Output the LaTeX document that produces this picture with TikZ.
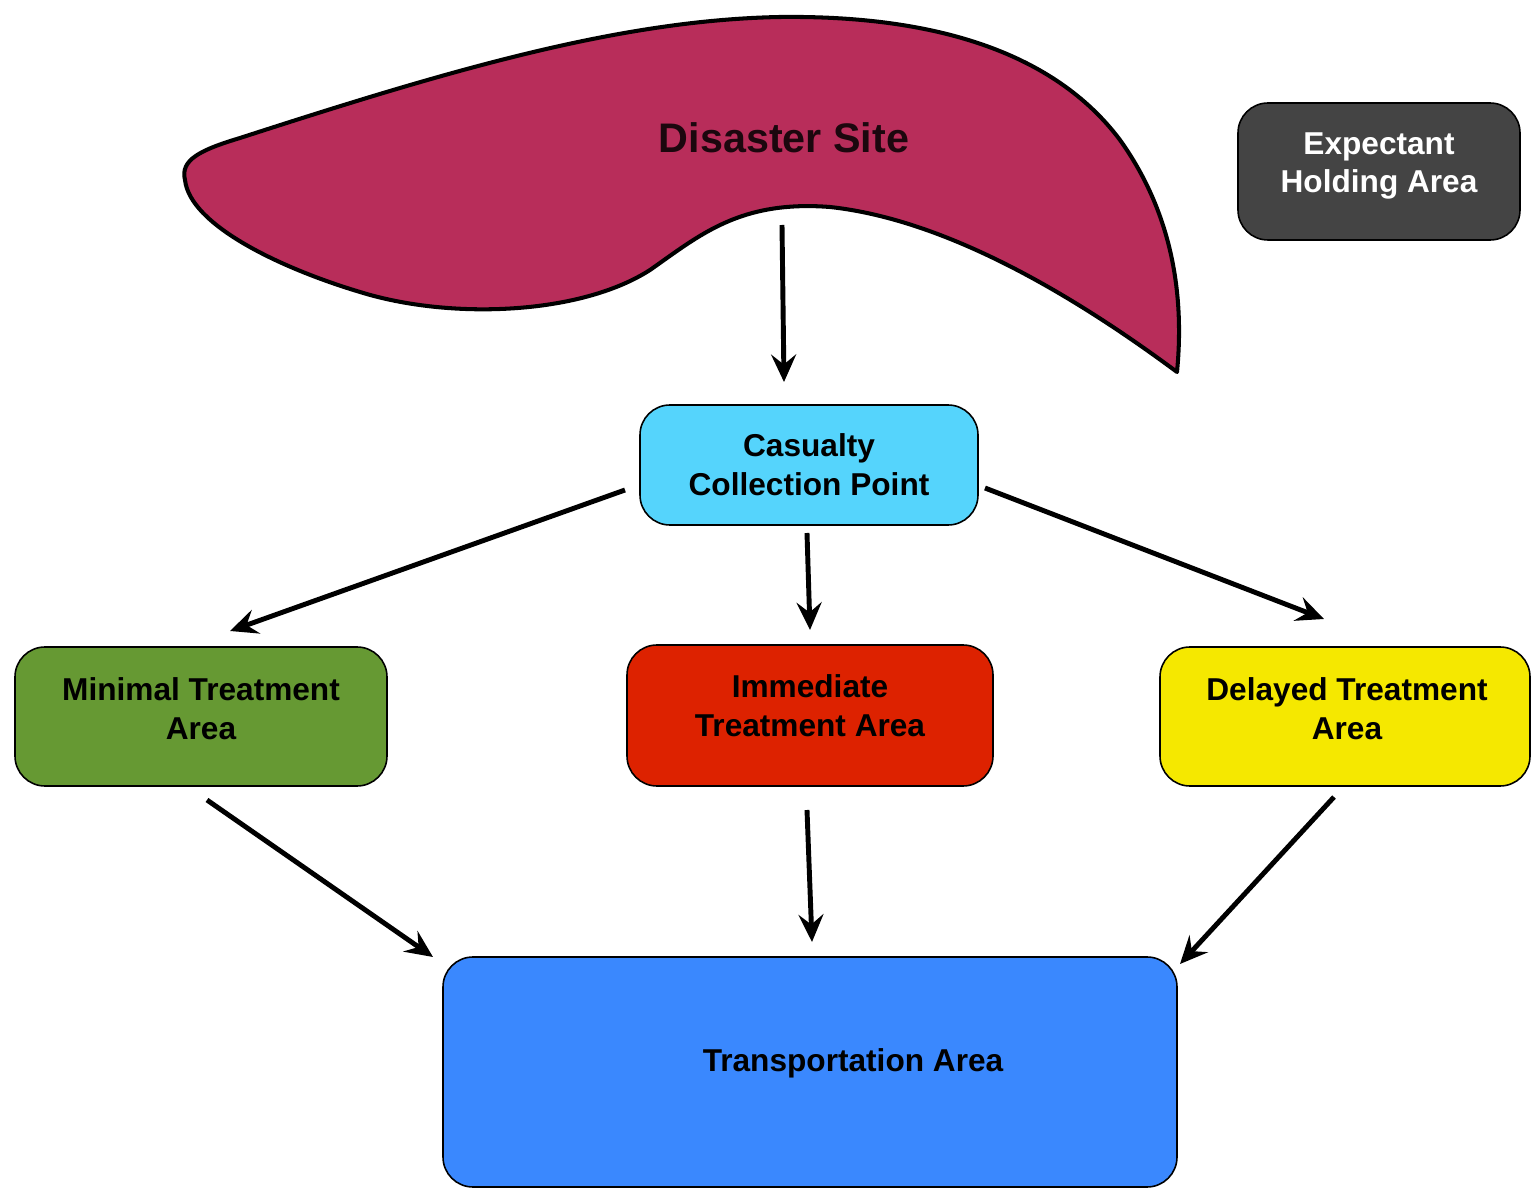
\documentclass[tikz,border=0pt]{standalone}
\usepackage{fontspec}
\setmainfont{Liberation Sans}
\usetikzlibrary{arrows.meta}
\definecolor{blobc}{HTML}{B82D5A}
\definecolor{expc}{HTML}{444444}
\definecolor{casc}{HTML}{55D4FC}
\definecolor{minc}{HTML}{669933}
\definecolor{immc}{HTML}{DD2200}
\definecolor{delc}{HTML}{F5E800}
\definecolor{trac}{HTML}{3A88FE}
\tikzset{
  box/.style={draw=black, line width=0.9pt, rounded corners=0.6cm, align=center,
    font=\bfseries\fontsize{18}{22}\selectfont, inner sep=0pt},
  txt/.style={align=center, font=\bfseries\fontsize{18}{22}\selectfont, inner sep=0pt},
  arr/.style={-{Stealth[length=0.55cm,width=0.5cm,inset=0.2cm]}, line width=2.8pt, black},
}
\begin{document}
\begin{tikzpicture}[x=0.02cm,y=-0.02cm]
\useasboundingbox (0,0) rectangle (1532,1192);
% disaster site blob
\draw[fill=blobc, line width=2.3pt, line join=round]
  (185,180) .. controls (180,160) and (200,150) .. (240,138)
  .. controls (450,70) and (620,20) .. (780,17)
  .. controls (950,15) and (1060,60) .. (1120,140)
  .. controls (1170,210) and (1185,290) .. (1177,372)
  .. controls (1080,300) and (950,220) .. (830,207)
  .. controls (740,200) and (700,235) .. (650,270)
  .. controls (580,315) and (450,320) .. (360,292)
  .. controls (280,268) and (190,225) .. (185,180) -- cycle;
\node[font=\bfseries\fontsize{23.5}{28}\selectfont, text=black!85!blobc] (ds) at (784,138) {Disaster Site};

\node[box, fill=expc, minimum width=282*0.02cm, minimum height=137*0.02cm] (exp) at (1379,171.5) {};
\node[txt, text=white] (expl) at (1379,166) {Expectant\\Holding Area};
\node[box, fill=casc, minimum width=338*0.02cm, minimum height=120*0.02cm] (ccp) at (809,465) {Casualty\\Collection Point};
\node[box, fill=minc, minimum width=372*0.02cm, minimum height=139*0.02cm] (min) at (201,716.5) {};
\node[txt] (minl) at (201,709) {Minimal Treatment\\Area};
\node[box, fill=immc, minimum width=366*0.02cm, minimum height=141*0.02cm] (imm) at (810,715.5) {};
\node[txt] (imml) at (810,706) {Immediate\\Treatment Area};
\node[box, fill=delc, minimum width=370*0.02cm, minimum height=139*0.02cm] (del) at (1345,716.5) {};
\node[txt] (dell) at (1347,709) {Delayed Treatment\\Area};
\node[box, fill=trac, minimum width=734*0.02cm, minimum height=230*0.02cm] (tra) at (810,1072) {};
\node[txt] (tral) at (853,1063) {Transportation Area};

% arrow end points
\coordinate (a1s) at (782,225); \coordinate (a1e) at (784,382);
\coordinate (a2s) at (625,490); \coordinate (a2e) at (230,631);
\coordinate (a3s) at (807,533); \coordinate (a3e) at (810,630);
\coordinate (a4s) at (985,488); \coordinate (a4e) at (1324,619);
\coordinate (a5s) at (207,800); \coordinate (a5e) at (433,957);
\coordinate (a6s) at (807,810); \coordinate (a6e) at (812,942);
\coordinate (a7s) at (1334,797); \coordinate (a7e) at (1180,964);
\draw[arr] (a1s) -- (a1e);
\draw[arr] (a2s) -- (a2e);
\draw[arr] (a3s) -- (a3e);
\draw[arr] (a4s) -- (a4e);
\draw[arr] (a5s) -- (a5e);
\draw[arr] (a6s) -- (a6e);
\draw[arr] (a7s) -- (a7e);
\end{tikzpicture}
\end{document}
